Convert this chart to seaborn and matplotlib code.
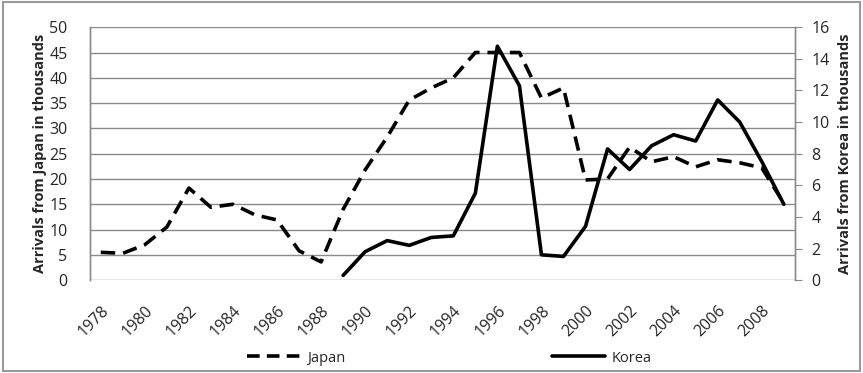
import numpy as np
import pandas as pd
import matplotlib
matplotlib.use("Agg")
import matplotlib.pyplot as plt
import seaborn as sns
from matplotlib.lines import Line2D
from matplotlib.patches import Rectangle

years = list(range(1978, 2010))
japan = [5.5, 5.3, 7.0, 10.5, 18.2, 14.4, 15.0, 12.9, 11.9, 5.8, 3.6, 14.0,
         21.8, 28.3, 35.6, 38.0, 40.0, 45.0, 45.0, 45.0, 36.0, 38.0, 19.8, 20.0,
         26.3, 23.4, 24.4, 22.4, 23.8, 23.2, 22.2, 15.2]
korea_years = list(range(1989, 2010))
korea = [0.3, 1.8, 2.5, 2.2, 2.7, 2.8, 5.5, 14.8, 12.3, 1.6, 1.5, 3.4, 8.3,
         7.0, 8.5, 9.2, 8.8, 11.4, 10.0, 7.5, 4.8]
left_ticks = list(range(0, 51, 5))
right_ticks = list(range(0, 17, 2))
xtick_labels = [str(y) for y in range(1978, 2010, 2)]

sns.set_theme(style="white")
plt.rcParams['font.family'] = ['Open Sans', 'DejaVu Sans']

df_j = pd.DataFrame({"idx": [y - 1978 for y in years], "val": japan})
df_k = pd.DataFrame({"idx": [y - 1978 for y in korea_years], "val": korea})

fig = plt.figure(figsize=(8.63, 3.73), dpi=100)
ax = fig.add_axes([0.104, 0.249, 0.817, 0.678])
ax2 = ax.twinx()

sns.lineplot(data=df_j, x="idx", y="val", ax=ax, color="black", linewidth=2.6)
ax.lines[0].set_dashes([4, 2.2])
sns.lineplot(data=df_k, x="idx", y="val", ax=ax2, color="black", linewidth=2.6)

n = len(years)
fs = 11.5
ax.set_xlim(-0.5, n - 0.5)
ax.set_ylim(0, 50)
ax2.set_ylim(0, 16)
ax.set_yticks(left_ticks)
ax.set_yticklabels([str(t) for t in left_ticks], fontsize=fs)
ax2.set_yticks(right_ticks)
ax2.set_yticklabels([str(t) for t in right_ticks], fontsize=fs)
ax.set_xticks([i for i in range(0, n, 2)])
ax.set_xticklabels(xtick_labels, rotation=45, ha="right", rotation_mode="anchor",
                   fontsize=fs)
ax.tick_params(axis="x", pad=16, length=0)
ax.tick_params(axis="y", length=0, pad=16)
ax2.tick_params(axis="y", length=5, direction="out", color="#888888", width=0.8, pad=7)

for t in left_ticks:
    ax.axhline(t, color="#8a8a8a", linewidth=1.0, zorder=0)

ax.set_xlabel("")
ax.set_ylabel("Arrivals from Japan in thousands", fontsize=10.5, fontweight="bold",
              labelpad=2)
ax2.set_ylabel("Arrivals from Korea in thousands", fontsize=10.5, fontweight="bold",
               labelpad=6)

for a in (ax, ax2):
    for s in ("top", "bottom"):
        a.spines[s].set_visible(False)
    a.spines["left"].set_color("#8a8a8a")
    a.spines["right"].set_color("#8a8a8a")
    a.spines["left"].set_linewidth(1.0)
    a.spines["right"].set_linewidth(1.0)

handles = [Line2D([0], [0], color="black", linewidth=2.6, dashes=[3.5, 2.0]),
           Line2D([0], [0], color="black", linewidth=2.6)]
leg = fig.legend(handles, ["Japan", "Korea"], loc="center", ncol=2,
                 bbox_to_anchor=(0.521, 0.04), frameon=False, fontsize=10.5,
                 handlelength=3.6, columnspacing=14.2, handletextpad=0.5)

fig.patches.append(Rectangle((0.004, 0.006), 0.992, 0.988, transform=fig.transFigure,
                             fill=False, edgecolor="#9a9a9a", linewidth=1.5))

fig.savefig("out.png", dpi=100)
